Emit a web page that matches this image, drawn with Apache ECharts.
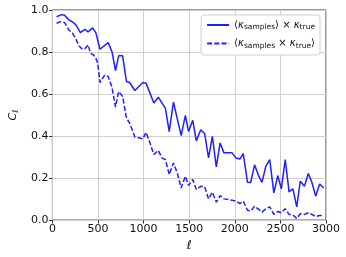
<!DOCTYPE html>
<html>
<head>
<meta charset="utf-8">
<script src="https://cdn.jsdelivr.net/npm/echarts@6/dist/echarts.min.js"></script>
<style>html,body{margin:0;padding:0;background:#fff}#c{width:346px;height:257px}</style>
</head>
<body>
<div id="c"></div>
<script>
// Solid: <kappa_samples> x kappa_true
var solidEll = [46, 99, 134, 180, 222, 258, 307, 356, 392, 441, 476, 522, 611, 653, 692, 727, 770, 812, 847, 904, 992, 1027, 1112, 1161, 1239, 1281, 1327, 1412, 1458, 1493, 1539, 1578, 1627, 1670, 1712, 1754, 1797, 1839, 1881, 1970, 2012, 2058, 2093, 2139, 2174, 2217, 2263, 2298, 2340, 2383, 2428, 2471, 2510, 2553, 2595, 2637, 2679, 2718, 2764, 2806, 2845, 2887, 2930, 2975];
var solidVal = [0.968, 0.978, 0.975, 0.953, 0.943, 0.929, 0.892, 0.908, 0.896, 0.915, 0.892, 0.813, 0.845, 0.802, 0.712, 0.782, 0.782, 0.660, 0.655, 0.617, 0.655, 0.652, 0.557, 0.585, 0.532, 0.421, 0.562, 0.402, 0.498, 0.422, 0.475, 0.377, 0.430, 0.411, 0.296, 0.399, 0.253, 0.367, 0.320, 0.320, 0.296, 0.291, 0.316, 0.180, 0.179, 0.263, 0.209, 0.180, 0.256, 0.288, 0.130, 0.212, 0.149, 0.288, 0.134, 0.149, 0.063, 0.185, 0.161, 0.222, 0.180, 0.114, 0.172, 0.153];
// Dashed: <kappa_samples x kappa_true>
var dashedEll = [46, 99, 134, 180, 222, 258, 293, 328, 356, 392, 417, 452, 476, 497, 522, 575, 611, 653, 692, 727, 770, 812, 847, 904, 956, 992, 1027, 1070, 1112, 1161, 1200, 1239, 1281, 1327, 1369, 1412, 1458, 1493, 1539, 1578, 1627, 1670, 1712, 1754, 1797, 1839, 1881, 1970, 2012, 2058, 2093, 2139, 2174, 2217, 2263, 2298, 2340, 2383, 2428, 2471, 2510, 2553, 2595, 2637, 2679, 2718, 2764, 2806, 2845, 2887, 2930, 2975];
var dashedVal = [0.937, 0.946, 0.940, 0.905, 0.889, 0.861, 0.829, 0.813, 0.816, 0.834, 0.794, 0.786, 0.771, 0.747, 0.655, 0.691, 0.684, 0.633, 0.538, 0.612, 0.589, 0.486, 0.462, 0.396, 0.391, 0.386, 0.418, 0.367, 0.312, 0.332, 0.296, 0.288, 0.217, 0.272, 0.225, 0.153, 0.209, 0.165, 0.193, 0.146, 0.161, 0.158, 0.101, 0.133, 0.085, 0.117, 0.101, 0.095, 0.090, 0.079, 0.090, 0.047, 0.043, 0.066, 0.051, 0.038, 0.054, 0.063, 0.027, 0.041, 0.035, 0.054, 0.027, 0.025, 0.008, 0.030, 0.027, 0.035, 0.027, 0.017, 0.022, 0.022];
var xTicks = [0, 500, 1000, 1500, 2000, 2500, 3000];
var yTicks = [0.0, 0.2, 0.4, 0.6, 0.8, 1.0];

function pairs(xs, ys) { return xs.map(function (x, i) { return [x, ys[i]]; }); }

var chart = echarts.init(document.getElementById('c'), null, {renderer: 'canvas'});
var font = 'DejaVu Sans';
var blue = '#1f1fff';
chart.setOption({
  animation: false,
  backgroundColor: '#fff',
  grid: {left: 42, right: 20, top: 10, bottom: 36, show: true, borderColor: '#333', borderWidth: 1, backgroundColor: 'transparent'},
  legend: {
    show: true,
    orient: 'vertical', right: 26, top: 15,
    backgroundColor: '#fff', borderColor: '#d0d0d0', borderWidth: 1, borderRadius: 3,
    padding: [5, 5, 5, 5], itemWidth: 22, itemHeight: 10, itemGap: 7,
    itemStyle: {color: 'rgba(0,0,0,0)', borderColor: 'rgba(0,0,0,0)', borderWidth: 0, opacity: 0},
    data: ['mean', 'cross'],
    formatter: function (n) {
      if (n === 'mean') return '{m|⟨}{k|κ}{s|samples}{m|⟩ × }{k|κ}{s|true}';
      return '{m|⟨}{k|κ}{s|samples}{m| × }{k|κ}{s|true}{m|⟩}';
    },
    textStyle: {
      fontFamily: font, color: '#111', fontSize: 10,
      rich: {
        m: {fontFamily: font, fontSize: 10, color: '#111'},
        k: {fontFamily: font, fontSize: 10, fontStyle: 'italic', color: '#111'},
        s: {fontFamily: font, fontSize: 7.5, color: '#111', padding: [5, 0, 0, 0]}
      }
    }
  },
  xAxis: {
    type: 'value', min: 0, max: 3000, interval: 500,
    name: 'ℓ', nameLocation: 'middle', nameGap: 16,
    nameTextStyle: {fontFamily: font, fontSize: 12, fontStyle: 'italic', color: '#111'},
    axisLine: {show: false}, axisTick: {show: true, length: 3.5, lineStyle: {color: '#333'}},
    axisLabel: {fontFamily: font, fontSize: 11, color: '#111', margin: 4, formatter: function (v) { return String(v); }},
    splitLine: {show: true, lineStyle: {color: '#cfcfcf', width: 1}}
  },
  yAxis: {
    type: 'value', min: 0, max: 1, interval: 0.2,
    name: '{c|C}{s|ℓ}', nameLocation: 'middle', nameGap: 29,
    nameTextStyle: {fontFamily: font, fontSize: 11, color: '#111',
      rich: {c: {fontFamily: font, fontSize: 11, fontStyle: 'italic', color: '#111'}, s: {fontFamily: font, fontSize: 8, fontStyle: 'italic', color: '#111', padding: [5, 0, 0, 0]}}},
    axisLine: {show: false}, axisTick: {show: true, length: 3.5, lineStyle: {color: '#333'}},
    axisLabel: {fontFamily: font, fontSize: 11, color: '#111', margin: 4, formatter: function (v) { return v.toFixed(1); }},
    splitLine: {show: true, lineStyle: {color: '#cfcfcf', width: 1}}
  },
  series: [
    {name: 'mean', type: 'line', data: pairs(solidEll, solidVal), showSymbol: false, symbol: 'none',
     lineStyle: {color: blue, width: 1.5}, itemStyle: {color: blue}},
    {name: 'cross', type: 'line', data: pairs(dashedEll, dashedVal), showSymbol: false, symbol: 'none',
     lineStyle: {color: blue, width: 1.5, type: [5, 2.2]}, itemStyle: {color: blue}}
  ]
});
</script>
</body>
</html>
